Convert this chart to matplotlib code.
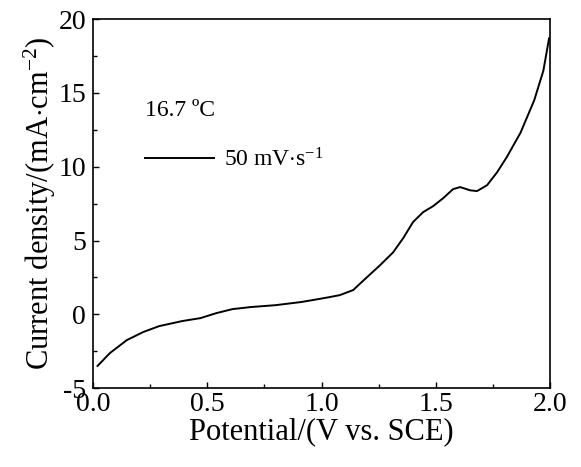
import matplotlib
matplotlib.use("Agg")
import matplotlib.pyplot as plt
from matplotlib.ticker import MultipleLocator
import numpy as np

plt.rcParams['font.family'] = 'Liberation Serif'
plt.rcParams['mathtext.fontset'] = 'custom'
plt.rcParams['mathtext.rm'] = 'Liberation Serif'
plt.rcParams['mathtext.it'] = 'Liberation Serif:italic'
plt.rcParams['axes.unicode_minus'] = False

# LSV curve
potential = [0.02, 0.074, 0.148, 0.22, 0.29, 0.39, 0.47, 0.54, 0.61, 0.69, 0.80,
             0.91, 0.96, 1.03, 1.08, 1.138, 1.199, 1.256, 1.313, 1.357, 1.40, 1.444,
             1.488, 1.532, 1.575, 1.606, 1.65, 1.68, 1.724, 1.768, 1.81, 1.87,
             1.93, 1.97, 1.995]
current = [-3.5, -2.63, -1.75, -1.2, -0.8, -0.46, -0.26, 0.08, 0.35, 0.49, 0.62,
           0.83, 0.96, 1.15, 1.30, 1.64, 2.52, 3.33, 4.2, 5.16, 6.25, 6.92,
           7.33, 7.87, 8.48, 8.62, 8.4, 8.35, 8.75, 9.63, 10.65, 12.3,
           14.5, 16.5, 18.7]

fig = plt.figure(figsize=(5.81, 4.67), dpi=100)
ax = fig.add_axes([0.160, 0.169, 0.787, 0.790])

ax.plot(potential, current, color='black', lw=1.4, label=r'50 mV$\cdot$s$^{-1}$')

ax.set_xlim(0, 2)
ax.set_ylim(-5, 20)
ax.xaxis.set_major_locator(MultipleLocator(0.5))
ax.xaxis.set_minor_locator(MultipleLocator(0.25))
ax.yaxis.set_major_locator(MultipleLocator(5))
ax.yaxis.set_minor_locator(MultipleLocator(2.5))
ax.tick_params(which='both', direction='in', labelsize=20, width=1.0)
ax.tick_params(which='major', length=4)
ax.tick_params(which='minor', length=3)
ax.tick_params(axis='x', pad=3)
ax.tick_params(axis='y', pad=5)
for s in ax.spines.values():
    s.set_linewidth(1.2)

ax.set_xlabel('Potential/(V vs. SCE)', fontsize=22, labelpad=0)
ax.set_ylabel(r'Current density/(mA$\cdot$cm$^{-2}$)', fontsize=22, labelpad=0)

ax.text(0.114, 0.753, '16.7 \u00baC', transform=ax.transAxes, fontsize=17,
        va='center', ha='left')
ax.legend(loc='center left', bbox_to_anchor=(0.114, 0.618), frameon=False,
          fontsize=17, handlelength=2.9, handletextpad=0.45,
          borderpad=0, borderaxespad=0)

fig.savefig('out.png', dpi=100)
